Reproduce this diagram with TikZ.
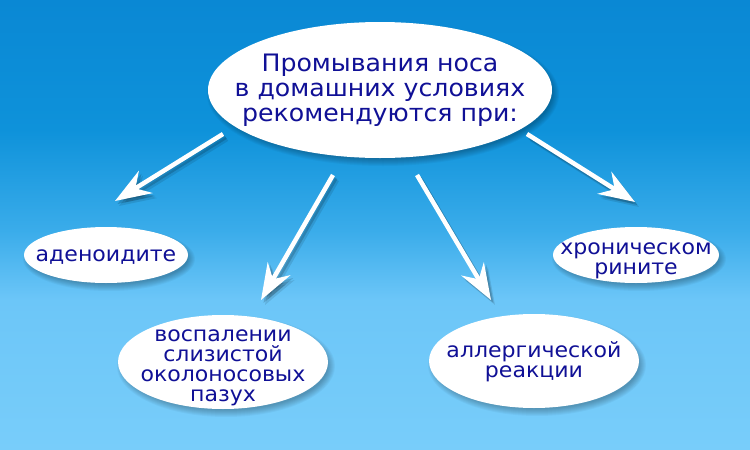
\documentclass[tikz,border=0pt]{standalone}
\usepackage{fontspec}
\newfontfamily\diagfont[FakeStretch=1.05]{DejaVu Sans}
\usetikzlibrary{arrows.meta,shapes.geometric}
\definecolor{txtblue}{RGB}{16,16,150}
\definecolor{bgA}{RGB}{120,205,250}
\definecolor{bgB}{RGB}{108,198,248}
\definecolor{bgC}{RGB}{58,172,234}
\definecolor{bgD}{RGB}{14,146,218}
\definecolor{bgE}{RGB}{10,136,212}
\pgfdeclareverticalshading{skybg}{100bp}{color(0bp)=(bgA); color(25bp)=(bgA); color(41.7bp)=(bgB); color(49.4bp)=(bgC); color(60.6bp)=(bgD); color(75bp)=(bgE); color(100bp)=(bgE)}
\newcommand\mysoftshadow[4]{\foreach \k in {0,...,7}{\fill[black,opacity=0.035] ({#1+3},{#2+4}) ellipse [x radius={(#3+4-\k)*1pt}, y radius={(#4+4-\k)*1pt}];}}
\tikzset{
  blob/.style={ellipse, fill=white, draw=none, inner sep=0pt},
  maintext/.style={text=txtblue, align=center, inner sep=0pt, font=\diagfont\fontsize{24}{25}\selectfont},
  smalltext/.style={text=txtblue, align=center, inner sep=0pt, font=\diagfont\fontsize{21}{20}\selectfont},
  arr/.style={draw=white, line width=4.5pt, -{Stealth[length=36pt,width=26pt,inset=12pt]}},
  arrshade/.style={draw=black, line width=4.5pt, -{Stealth[length=36pt,width=26pt,inset=12pt]}, draw opacity=#1, fill opacity=#1},
}
\begin{document}
\begin{tikzpicture}[x=1pt,y=-1pt]
\useasboundingbox (0,0) rectangle (750,450);
\shade[shading=skybg] (0,0) rectangle (750,450);
% coordinates of the arrows
\coordinate (a1s) at (223,134); \coordinate (a1e) at (115,201);
\coordinate (a2s) at (333,175); \coordinate (a2e) at (261,300);
\coordinate (a3s) at (417,175); \coordinate (a3e) at (491,300);
\coordinate (a4s) at (527,134); \coordinate (a4e) at (635,202);
% arrow shadows
\begin{scope}[transform canvas={shift={(4pt,-5pt)}}]
  \foreach \s/\e in {a1s/a1e,a2s/a2e,a3s/a3e,a4s/a4e}{\draw[arrshade=0.10] (\s) -- (\e);}
\end{scope}
\begin{scope}[transform canvas={shift={(2.5pt,-3pt)}}]
  \foreach \s/\e in {a1s/a1e,a2s/a2e,a3s/a3e,a4s/a4e}{\draw[arrshade=0.16] (\s) -- (\e);}
\end{scope}
% ellipse shadows
\mysoftshadow{380}{90}{172}{68}
\mysoftshadow{106}{255}{82}{28}
\mysoftshadow{223}{362}{105}{47}
\mysoftshadow{534}{361}{105}{47}
\mysoftshadow{636}{255}{83}{28}
% ellipses
\node[blob, minimum width=344pt, minimum height=136pt] (m) at (380,90) {};
\node[blob, minimum width=164pt, minimum height=56pt] (ad) at (106,255) {};
\node[blob, minimum width=210pt, minimum height=94pt] (vo) at (223,362) {};
\node[blob, minimum width=210pt, minimum height=94pt] (al) at (534,361) {};
\node[blob, minimum width=166pt, minimum height=56pt] (hr) at (636,255) {};
% texts
\node[maintext] (mt) at (380,90.5) {Промывания носа\\в домашних условиях\\рекомендуются при:};
\node[smalltext] (adt) at (106,256.7) {аденоидите};
\node[smalltext] (vot) at (223,367.5) {воспалении\\слизистой\\околоносовых\\пазух};
\node[smalltext] (alt) at (534,362) {аллергической\\реакции};
\node[smalltext] (hrt) at (636,260.5) {хроническом\\рините};
% arrows
\draw[arr] (a1s) -- (a1e);
\draw[arr] (a2s) -- (a2e);
\draw[arr] (a3s) -- (a3e);
\draw[arr] (a4s) -- (a4e);
\end{tikzpicture}
\end{document}
